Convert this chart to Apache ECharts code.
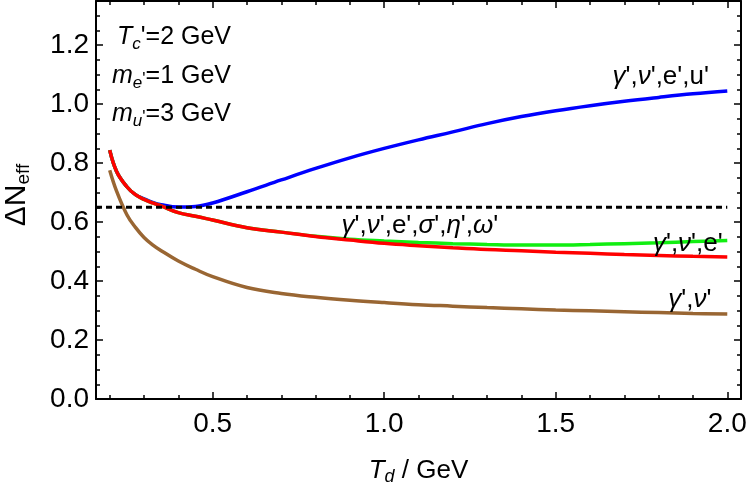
<!DOCTYPE html>
<html>
<head>
<meta charset="utf-8">
<script src="https://cdn.jsdelivr.net/npm/echarts@6/dist/echarts.min.js"></script>
<style>
  html, body { margin: 0; padding: 0; background: #fff; }
  #chart { width: 750px; height: 494px; }
</style>
</head>
<body>
<div id="chart"></div>
<script>
// data
const tdValues = [0.2, 0.22, 0.25, 0.275, 0.3, 0.325, 0.35, 0.4, 0.45, 0.5, 0.6, 0.7, 0.8, 0.9, 1.0,
                  1.1, 1.2, 1.3, 1.4, 1.5, 1.6, 1.7, 1.8, 1.9, 2.0];
const blueValues  = [0.844, 0.772, 0.72, 0.693, 0.679, 0.667, 0.659, 0.651, 0.653, 0.665, 0.703, 0.743, 0.782, 0.818, 0.85,
                     0.879, 0.906, 0.934, 0.958, 0.978, 0.995, 1.01, 1.023, 1.035, 1.045];
const greenValues = [0.844, 0.772, 0.72, 0.693, 0.677, 0.665, 0.655, 0.632, 0.62, 0.607, 0.581, 0.566, 0.552, 0.542, 0.536,
                     0.531, 0.527, 0.524, 0.522, 0.522, 0.524, 0.527, 0.53, 0.534, 0.538];
const redValues   = [0.844, 0.772, 0.72, 0.693, 0.677, 0.665, 0.655, 0.632, 0.62, 0.607, 0.581, 0.566, 0.551, 0.539, 0.528,
                     0.52, 0.513, 0.507, 0.503, 0.498, 0.494, 0.49, 0.487, 0.484, 0.482];
const brownValues = [0.776, 0.705, 0.625, 0.582, 0.548, 0.523, 0.503, 0.468, 0.44, 0.415, 0.378, 0.358, 0.345, 0.335, 0.327,
                     0.32, 0.315, 0.31, 0.306, 0.302, 0.299, 0.296, 0.293, 0.29, 0.288];
const refLevel = 0.65;

const xMajorTicks = [0.5, 1.0, 1.5, 2.0];
const xMinorTicks = [0.2, 0.3, 0.4, 0.6, 0.7, 0.8, 0.9, 1.1, 1.2, 1.3, 1.4, 1.6, 1.7, 1.8, 1.9];
const yMajorTicks = [0, 0.2, 0.4, 0.6, 0.8, 1.0, 1.2];
const yMinorTicks = [0.05, 0.1, 0.15, 0.25, 0.3, 0.35, 0.45, 0.5, 0.55, 0.65, 0.7, 0.75,
                     0.85, 0.9, 0.95, 1.05, 1.1, 1.15, 1.25, 1.3];

// curve labels: text and the data point they sit on
const curveLabels = [
  { text: "{g|γ}',{g|ν}',e',u'", at: [1.806, 1.092] },
  { text: "{g|γ}',{g|ν}',e',{g|σ}',{g|η}',{g|ω}'", at: [1.104, 0.586] },
  { text: "{g|γ}',{g|ν}',e'", at: [1.885, 0.525] },
  { text: "{g|γ}',{g|ν}'", at: [1.891, 0.336] }
];

const FONT = '"Liberation Sans", Arial, sans-serif';

function pairs(ys) {
  return tdValues.map(function (x, i) { return [x, ys[i]]; });
}

const richBase = {
  n:    { fontFamily: FONT, fontSize: 25, color: '#000' },
  i:    { fontFamily: FONT, fontSize: 25, fontStyle: 'italic', color: '#000' },
  sub:  { fontFamily: FONT, fontSize: 17, fontStyle: 'italic', color: '#000', padding: [13, 0, 0, 0] },
  subp: { fontFamily: FONT, fontSize: 17, color: '#000', padding: [5, 0, 0, 0] }
};

function xAxisDef(pos, ticks, len, showLine, showLabel) {
  return {
    type: 'value', position: pos, min: 0.16, max: 2.04,
    splitLine: { show: false },
    axisLine: { show: showLine, onZero: false, lineStyle: { color: '#000', width: 2 } },
    axisTick: { show: true, inside: true, length: len, customValues: ticks, lineStyle: { color: '#000', width: 1.5 } },
    axisLabel: {
      show: showLabel, customValues: ticks, margin: 11,
      fontFamily: FONT, fontSize: 28, color: '#000',
      formatter: function (v) { return v.toFixed(1); }
    }
  };
}
function yAxisDef(pos, ticks, len, showLine, showLabel) {
  return {
    type: 'value', position: pos, min: 0, max: 1.35,
    splitLine: { show: false },
    axisLine: { show: showLine, onZero: false, lineStyle: { color: '#000', width: 2 } },
    axisTick: { show: true, inside: true, length: len, customValues: ticks, lineStyle: { color: '#000', width: 1.5 } },
    axisLabel: {
      show: showLabel, customValues: ticks, margin: 7,
      fontFamily: FONT, fontSize: 28, color: '#000',
      formatter: function (v) { return v.toFixed(1); }
    }
  };
}

let myChart = echarts.init(document.getElementById('chart'), null, { renderer: 'canvas' });

let xMain = xAxisDef('bottom', xMajorTicks, 7, true, true);
xMain.name = '{i|T}{sub|d}{n| / GeV}';
xMain.nameLocation = 'middle';
xMain.nameGap = 57;
xMain.nameTextStyle = {
  rich: {
    n: { fontFamily: FONT, fontSize: 26, color: '#000' },
    i: { fontFamily: FONT, fontSize: 26, fontStyle: 'italic', color: '#000' },
    sub: { fontFamily: FONT, fontSize: 18, fontStyle: 'italic', color: '#000', padding: [12, 0, 0, 0] }
  }
};

let yMain = yAxisDef('left', yMajorTicks, 7, true, true);
yMain.name = '{n|ΔN}{sub|eff}';
yMain.nameLocation = 'middle';
yMain.nameRotate = 90;
yMain.nameGap = 63;
yMain.nameTextStyle = {
  padding: [0, 0, 0, 10],
  rich: {
    n: { fontFamily: FONT, fontSize: 30, color: '#000' },
    sub: { fontFamily: FONT, fontSize: 19, color: '#000', padding: [13, 0, 0, 0] }
  }
};

let lineSeries = function (name, ys, color) {
  return {
    name: name, type: 'line', data: pairs(ys), smooth: 0.4,
    showSymbol: false, symbol: 'none', xAxisIndex: 0, yAxisIndex: 0,
    lineStyle: { color: color, width: 3.5 }, silent: true, animation: false
  };
};

let option = {
  animation: false,
  backgroundColor: '#fff',
  grid: { left: 96, right: 9, top: 1, bottom: 95, containLabel: false, outerBoundsMode: 'none' },
  xAxis: [
    xMain,
    xAxisDef('bottom', xMinorTicks, 4, false, false),
    xAxisDef('top', xMajorTicks, 7, true, false),
    xAxisDef('top', xMinorTicks, 4, false, false)
  ],
  yAxis: [
    yMain,
    yAxisDef('left', yMinorTicks, 4, false, false),
    yAxisDef('right', yMajorTicks, 7, true, false),
    yAxisDef('right', yMinorTicks, 4, false, false)
  ],
  series: [
    lineSeries('blue', blueValues, '#0000ff'),
    lineSeries('green', greenValues, '#11ee11'),
    lineSeries('red', redValues, '#ff0000'),
    lineSeries('brown', brownValues, '#996633'),
    {
      name: 'ref', type: 'line', xAxisIndex: 0, yAxisIndex: 0,
      data: [[0.16, refLevel], [2.0, refLevel]], showSymbol: false, symbol: 'none',
      lineStyle: { color: '#000', width: 3, type: [6, 4] }, z: 5, silent: true
    }
  ]
};

myChart.setOption(option);

// text that sits on the plot
let graphics = [
  { type: 'text', left: 117, top: 25, style: { text: "{i|T}{sub|c}{n|'=2 GeV}", rich: richBase } },
  { type: 'text', left: 112, top: 64, style: { text: "{i|m}{sub|e}{subp|'}{n|=1 GeV}", rich: richBase } },
  { type: 'text', left: 112, top: 102, style: { text: "{i|m}{sub|u}{subp|'}{n|=3 GeV}", rich: richBase } }
];
curveLabels.forEach(function (lab) {
  let p = myChart.convertToPixel({ xAxisIndex: 0, yAxisIndex: 0 }, lab.at);
  graphics.push({
    type: 'text', x: p[0], y: p[1], z: 10,
    style: {
      text: lab.text, align: 'center', verticalAlign: 'middle',
      fontFamily: FONT, fontSize: 26, fill: '#000',
      rich: { g: { fontFamily: FONT, fontSize: 26, fontStyle: 'italic', color: '#000' } }
    }
  });
});
myChart.setOption({ graphic: graphics });

window.addEventListener('resize', function () {
  myChart.resize();
});
</script>
</body>
</html>
